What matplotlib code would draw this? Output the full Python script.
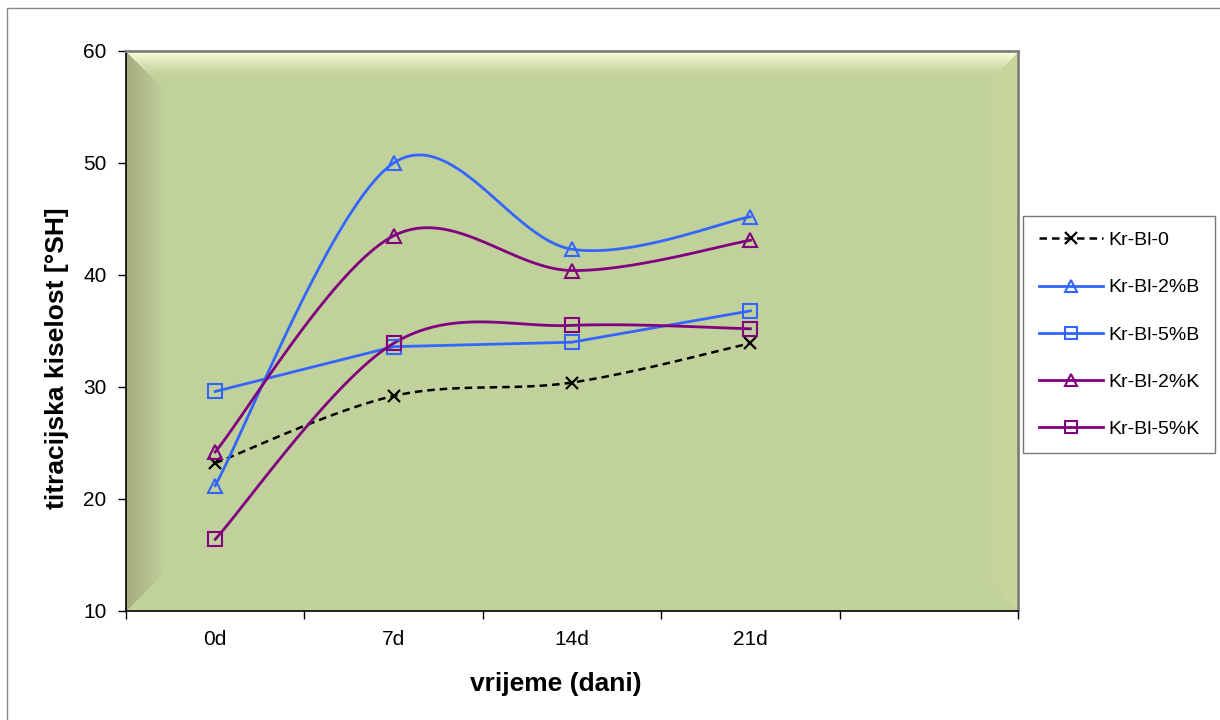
#!/usr/bin/env python

import numpy as np
import matplotlib
matplotlib.use("Agg")
import matplotlib.pyplot as plt
from matplotlib.patches import Rectangle

plt.rcParams["font.family"] = ["Liberation Sans", "DejaVu Sans"]

days = ["0d", "7d", "14d", "21d"]
kr_bl_0 = [23.2, 29.2, 30.4, 33.9]
kr_bl_2b = [21.2, 50.0, 42.3, 45.2]
kr_bl_5b = [29.6, 33.6, 34.0, 36.8]
kr_bl_2k = [24.2, 43.5, 40.4, 43.1]
kr_bl_5k = [16.4, 33.9, 35.5, 35.2]

blue = "#3366FF"
purple = "#800080"


def smooth(xs, ys, n=40):
    # Excel-style smoothed line: Catmull-Rom as cubic Bezier pieces
    p = np.column_stack([xs, ys]).astype(float)
    p = np.vstack([p[0], p, p[-1]])
    out = []
    t = np.linspace(0, 1, n)[:, None]
    for i in range(1, len(p) - 2):
        p0, p1, p2, p3 = p[i - 1], p[i], p[i + 1], p[i + 2]
        c1 = p1 + (p2 - p0) / 6.0
        c2 = p2 - (p3 - p1) / 6.0
        seg = ((1 - t) ** 3) * p1 + 3 * ((1 - t) ** 2) * t * c1 + 3 * (1 - t) * t ** 2 * c2 + t ** 3 * p2
        out.append(seg if i == 1 else seg[1:])
    out = np.vstack(out)
    return out[:, 0], out[:, 1]


def bevel_image(w, h, b):
    # plot area fill with a soft bevelled edge
    base = np.array([193, 209, 155]) / 255.0
    top = np.array([255, 255, 225]) / 255.0
    left = np.array([166, 172, 128]) / 255.0
    right = np.array([200, 216, 154]) / 255.0
    bottom = np.array([195, 211, 156]) / 255.0
    yy, xx = np.mgrid[0:h, 0:w]
    d = np.stack([yy, xx, w - 1 - xx, h - 1 - yy]).astype(float)
    which = np.argmin(d, axis=0)
    dist = np.min(d, axis=0)
    img = np.tile(base, (h, w, 1))
    inb = dist < b
    fs = [np.clip(1 - dist / 26.0, 0, 1) ** 1.4,
          np.clip(1 - dist / b, 0, 1) ** 0.9,
          (0.2 + 0.8 * np.clip(1 - dist / b, 0, 1)) * inb,
          np.clip(1 - dist / b, 0, 1) * 0.5 + inb * 0.5]
    for k, c in enumerate([top, left, right, bottom]):
        m = ((which == k) * np.clip(fs[k], 0, 1))[..., None]
        img = img * (1 - m) + c * m
    return img


fig = plt.figure(figsize=(12.2, 7.2), dpi=100)
fig.patches.append(Rectangle((7 / 1220, -0.1), 1.2, 1.1 - 8 / 720, transform=fig.transFigure,
                             fill=False, edgecolor="#888888", linewidth=1.0))

ax = fig.add_axes([126 / 1220, 1 - 611 / 720, 892 / 1220, 560 / 720])
ax.imshow(bevel_image(892, 560, 37), extent=[0, 1, 0, 1], transform=ax.transAxes,
          aspect="auto", zorder=0, interpolation="nearest")

x = np.arange(len(days))

sx, sy = smooth(x, kr_bl_0)
ax.plot(sx, sy, color="black", linestyle=(0, (3, 2)), linewidth=1.8, zorder=3)
ax.plot(x, kr_bl_0, linestyle="none", marker="x", markersize=9, markeredgewidth=1.6,
        color="black", zorder=4)

sx, sy = smooth(x, kr_bl_2b)
ax.plot(sx, sy, color=blue, linewidth=2.0, zorder=3)
ax.plot(x, kr_bl_2b, linestyle="none", marker="^", markersize=10.5, markerfacecolor="none",
        markeredgewidth=1.5, color=blue, zorder=4)

ax.plot(x, kr_bl_5b, color=blue, linewidth=2.0, zorder=3)
ax.plot(x, kr_bl_5b, linestyle="none", marker="s", markersize=10, markerfacecolor="none",
        markeredgewidth=1.5, color=blue, zorder=4)

sx, sy = smooth(x, kr_bl_2k)
ax.plot(sx, sy, color=purple, linewidth=2.0, zorder=3)
ax.plot(x, kr_bl_2k, linestyle="none", marker="^", markersize=10.5, markerfacecolor="none",
        markeredgewidth=1.5, color=purple, zorder=4)

sx, sy = smooth(x, kr_bl_5k)
ax.plot(sx, sy, color=purple, linewidth=2.0, zorder=3)
ax.plot(x, kr_bl_5k, linestyle="none", marker="s", markersize=10, markerfacecolor="none",
        markeredgewidth=1.5, color=purple, zorder=4)

# legend proxies
h0, = ax.plot([], [], color="black", linestyle=(0, (3, 2)), linewidth=1.8, marker="x",
              markersize=8, markeredgewidth=1.6)
h1, = ax.plot([], [], color=blue, linewidth=2.0, marker="^", markersize=9,
              markerfacecolor="none", markeredgewidth=1.5)
h2, = ax.plot([], [], color=blue, linewidth=2.0, marker="s", markersize=9,
              markerfacecolor="none", markeredgewidth=1.5)
h3, = ax.plot([], [], color=purple, linewidth=2.0, marker="^", markersize=9,
              markerfacecolor="none", markeredgewidth=1.5)
h4, = ax.plot([], [], color=purple, linewidth=2.0, marker="s", markersize=9,
              markerfacecolor="none", markeredgewidth=1.5)
leg = fig.legend([h0, h1, h2, h3, h4], ["Kr-Bl-0", "Kr-Bl-2%B", "Kr-Bl-5%B", "Kr-Bl-2%K", "Kr-Bl-5%K"],
                 loc="upper left", bbox_to_anchor=(1023 / 1220, 1 - 216 / 720),
                 fontsize=14, handlelength=3.3, numpoints=1, labelspacing=1.52,
                 fancybox=False, frameon=True, borderpad=0.8, handletextpad=0.3,
                 borderaxespad=0)
leg.get_frame().set_edgecolor("#555555")
leg.get_frame().set_linewidth(1.0)

ax.set_xlim(-0.5, 4.5)
ax.set_ylim(10, 60)
ax.set_yticks([10, 20, 30, 40, 50, 60])
ax.set_xticks(x)
ax.set_xticklabels(days)
ax.set_xticks(np.arange(-0.5, 5.0, 1.0), minor=True)
ax.tick_params(axis="x", which="major", length=0, pad=14, labelsize=15)
ax.tick_params(axis="x", which="minor", length=6, direction="out", width=1)
ax.tick_params(axis="y", length=6, direction="out", width=1, labelsize=15, pad=8)

for s in ["left", "bottom"]:
    ax.spines[s].set_color("black")
    ax.spines[s].set_linewidth(1.2)
for s in ["top", "right"]:
    ax.spines[s].set_color("#808080")
    ax.spines[s].set_linewidth(2.0)

fig.text(556 / 1220, 1 - 684 / 720, "vrijeme (dani)", ha="center", va="center",
         fontsize=19, fontweight="bold")
fig.text(57 / 1220, 1 - 358 / 720, "titracijska kiselost [°SH]", ha="center", va="center",
         fontsize=19, fontweight="bold", rotation=90)

fig.savefig("out.png", dpi=100)
